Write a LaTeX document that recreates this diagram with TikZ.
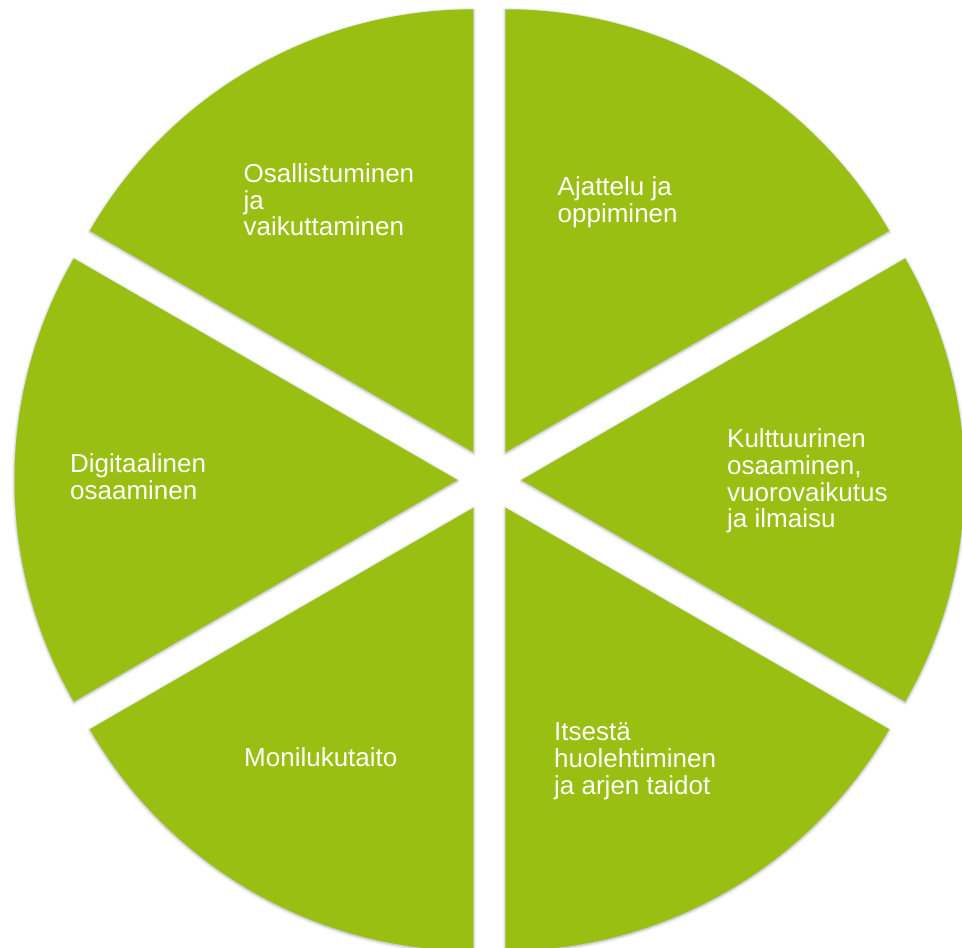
\documentclass[tikz,border=0pt]{standalone}
\usepackage{fontspec}
\setmainfont{Liberation Sans}
\usetikzlibrary{shadows.blur}

\definecolor{leafgreen}{HTML}{98BF11}

\tikzset{
    slice/.style={fill=leafgreen, blur shadow={shadow xshift=0pt, shadow yshift=-1pt,
        shadow blur radius=3pt, shadow blur steps=6, shadow opacity=35}},
    lbl/.style={anchor=north west, inner sep=0pt, align=left, text=white,
        font=\fontsize{26}{26.8}\selectfont}
}

\begin{document}
\begin{tikzpicture}[x=1pt, y=1pt]
    \useasboundingbox (-489.5,-468) rectangle (472.5,480);   % page size

\foreach \m in {60,0,-60,-120,180,120}
    \fill [slice] (\m:32) -- ++(\m-30:443)
        arc [start angle=\m-30, end angle=\m+30, radius=443] -- cycle;   % one slice of the pie

    \node [lbl] (osal) at (-246,316.8) {Osallistuminen\\ja\\vaikuttaminen};
    \node [lbl] (ajat) at (68,303.5) {Ajattelu ja\\oppiminen};
    \node [lbl] (kult) at (237.5,51.5) {Kulttuurinen\\osaaminen,\\vuorovaikutus\\ja ilmaisu};
    \node [lbl] (itse) at (64.5,-242.5) {Itsestä\\huolehtiminen\\ja arjen taidot};
    \node [lbl] (moni) at (-245.5,-267.5) {Monilukutaito};
    \node [lbl] (digi) at (-419.5,26.5) {Digitaalinen\\osaaminen};
\end{tikzpicture}
\end{document}
